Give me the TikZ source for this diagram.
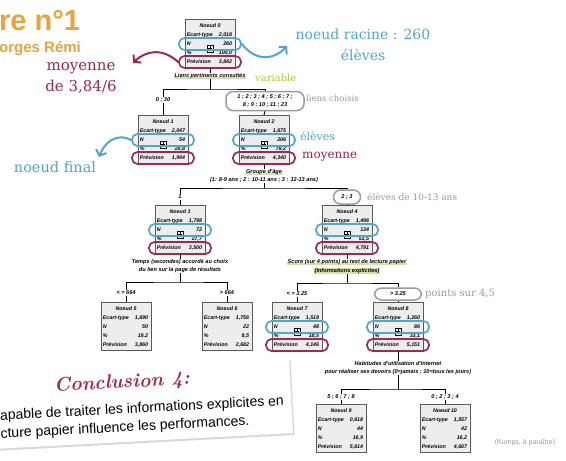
\documentclass[tikz,border=0pt]{standalone}
\usepackage{fontspec}
\newfontfamily\slabfont{DejaVu Serif}
\newfontfamily\cardfont{Liberation Sans}
\usetikzlibrary{arrows.meta,shadows,positioning}
\definecolor{ovblue}{HTML}{4FA8CB}
\definecolor{ovred}{HTML}{A1294F}
\definecolor{ovgray}{HTML}{9B9B9B}
\definecolor{titleor}{HTML}{E7A43C}
\definecolor{hlgreen}{HTML}{D3E2A4}
\definecolor{vargreen}{HTML}{B7C541}
\definecolor{boxgray}{HTML}{EDEDED}
\tikzset{
  treebox/.style={draw=black!65, fill=boxgray, line width=0.6pt,
    minimum width=50pt, minimum height=48pt, inner sep=0pt},
  tt/.style={font=\cardfont\fontsize{5.3}{6}\selectfont\bfseries\itshape, inner sep=0pt},
  splitlbl/.style={font=\cardfont\fontsize{5.6}{7.4}\selectfont\bfseries\itshape,
    inner sep=0.6pt, align=center},
  hlunder/.style={fill=white, path picture={\fill[hlgreen]
    ([yshift=2pt]path picture bounding box.south west) rectangle
    (path picture bounding box.south east);}},
  treeline/.style={line width=0.9pt},
  blueoval/.style={draw=ovblue, line width=1.7pt, rounded corners=5.5pt,
    minimum width=62pt, minimum height=12pt, inner sep=0pt},
  redoval/.style={blueoval, draw=ovred},
  grayoval/.style={draw=ovgray, line width=1.5pt, rounded corners=7pt},
  plusbox/.style={draw, fill=white, line width=0.5pt, minimum size=6.5pt, inner sep=0pt,
    path picture={\draw[line width=0.45pt]
      ([yshift=-1.2pt]path picture bounding box.north) -- ([yshift=1.2pt]path picture bounding box.south)
      ([xshift=1.2pt]path picture bounding box.west) -- ([xshift=-1.2pt]path picture bounding box.east);}},
  note/.style={inner sep=0pt},
  annarrow/.style={line width=2pt, -{Straight Barb[length=5pt,width=11pt]}},
}
\begin{document}
\begin{tikzpicture}[x=1pt,y=-1pt]
\useasboundingbox (0,0) rectangle (566,461);
\fill[white] (0,0) rectangle (566,461);

% carte de conclusion
\fill[white, drop shadow={opacity=0.3, shadow xshift=1.5pt, shadow yshift=-2pt}]
  (-30,375) -- (289,358) -- (293,433) -- (-26,450) -- cycle;
\node[note, rotate=3, text=ovred, font=\fontsize{19.5}{22}\selectfont\bfseries\itshape] (c0) at (122,383) {Conclusion 4:};
\node[note, rotate=3, font=\cardfont\fontsize{14}{16}\selectfont] (c1) at (142,409) {apable de traiter les informations explicites en};
\node[note, rotate=3, font=\cardfont\fontsize{14}{16}\selectfont] (c2) at (125,428) {cture papier influence les performances.};

% titre
\node[note, anchor=west, text=titleor, font=\cardfont\bfseries\fontsize{29}{30}\selectfont] (ttl) at (-1,21) {re n°1};
\node[note, anchor=west, text=titleor, font=\cardfont\bfseries\fontsize{15}{16}\selectfont] (auth) at (-1,49) {orges Rémi};

% noeuds de l'arbre
\foreach \k/\cx/\ty/\et/\nn/\pc/\pv in {
  0/210/19/{2,018}/260/{100,0}/{3,842},
  1/163/115/{2,047}/54/{20,8}/{1,944},
  2/264/115/{1,675}/206/{79,2}/{4,340},
  3/180/205/{1,798}/72/{27,7}/{3,500},
  4/347/205/{1,496}/134/{51,5}/{4,791},
  5/126/302/{1,690}/50/{19,2}/{3,860},
  6/227/302/{1,756}/22/{8,5}/{2,682},
  7/297/302/{1,519}/48/{18,5}/{4,146},
  8/398/302/{1,260}/86/{33,1}/{5,151},
  9/341/404/{0,618}/44/{16,9}/{5,614},
  10/445/404/{1,557}/42/{16,2}/{4,667}}
{
  \node[treebox, anchor=north] (n\k) at (\cx,\ty) {};
  \node[tt] (h\k) at ([yshift=-7pt]n\k.north) {Noeud \k};
  \node[tt, anchor=west] (el\k) at ([xshift=2pt,yshift=-16pt]n\k.north west) {Ecart-type};
  \node[tt, anchor=east] (ev\k) at ([xshift=-3pt,yshift=-16pt]n\k.north east) {\et};
  \node[tt, anchor=west] (nl\k) at ([xshift=2pt,yshift=-25pt]n\k.north west) {N};
  \node[tt, anchor=east] (nv\k) at ([xshift=-3pt,yshift=-25pt]n\k.north east) {\nn};
  \node[tt, anchor=west] (pl\k) at ([xshift=2pt,yshift=-34pt]n\k.north west) {\%};
  \node[tt, anchor=east] (pv\k) at ([xshift=-3pt,yshift=-34pt]n\k.north east) {\pc};
  \node[tt, anchor=west] (rl\k) at ([xshift=2pt,yshift=-43pt]n\k.north west) {Prévision};
  \node[tt, anchor=east] (rv\k) at ([xshift=-3pt,yshift=-43pt]n\k.north east) {\pv};
}
\foreach \k in {0,1,2,3,4,7,8} {
  \node[plusbox] (pb\k) at ([yshift=-29.5pt]n\k.north) {};
  \node[blueoval] (bo\k) at ([yshift=-25pt]n\k.north) {};
  \node[redoval] (ro\k) at ([yshift=-43pt]n\k.north) {};
}

% division 0
\node[splitlbl, hlunder] (v0) at (210,76) {Liens pertinents consultés};
\node[splitlbl] (b1) at (163,100) {0 ; 30};
\node[splitlbl, grayoval, minimum width=78pt, minimum height=19pt] (b2) at (265,101)
  {1 ; 2 ; 3 ; 4 ; 5 ; 6 ; 7 ;\\8 ; 9 ; 10 ; 11 ; 23};
\coordinate (s0) at (210,89);
\draw[treeline] (n0.south) -- (v0.north);
\draw[treeline] (v0.south) -- (s0);
\draw[treeline] (b1.north) |- (s0) -| (b2.north);
\draw[treeline] (b1.south) -- (n1.north);
\draw[treeline] (b2.south) -- (n2.north);

% division 2
\node[splitlbl, hlunder] (v2) at (264,172) {Groupe d'âge};
\node[splitlbl] (v2b) at (264,180) {(1: 8-9 ans ; 2 : 10-11 ans ; 3 : 12-13 ans)};
\node[splitlbl] (b3) at (180,197) {1};
\node[splitlbl, grayoval, minimum width=27pt, minimum height=14pt] (b4) at (347,197) {2 ; 3};
\coordinate (s2) at (264,188);
\draw[treeline] (n2.south) -- (v2.north);
\draw[treeline] (v2b.south) -- (s2);
\draw[treeline] (b3.north) |- (s2) -| (b4.north);
\draw[treeline] (b3.south) -- (n3.north);
\draw[treeline] (b4.south) -- (n4.north);

% division 3
\node[splitlbl] (v3) at (180,266) {Temps (secondes) accordé au choix\\du lien sur la page de résultats};
\node[splitlbl] (b5) at (126,293) {< = 664};
\node[splitlbl] (b6) at (227,293) {> 664};
\coordinate (s3) at (180,282);
\draw[treeline] (n3.south) -- (v3.north);
\draw[treeline] (v3.south) -- (s3);
\draw[treeline] (b5.north) |- (s3) -| (b6.north);
\draw[treeline] (b5.south) -- (n5.north);
\draw[treeline] (b6.south) -- (n6.north);

% division 4
\node[splitlbl, hlunder] (v4) at (347,262) {Score (sur 4 points) au test de lecture papier};
\node[splitlbl, fill=hlgreen] (v4b) at (347,271) {(Informations explicites)};
\node[splitlbl] (b7) at (297,294) {< = 3.25};
\node[splitlbl, grayoval, minimum width=47pt, minimum height=12pt] (b8) at (398,294) {> 3.25};
\coordinate (s4) at (347,283);
\draw[treeline] (n4.south) -- (v4.north);
\draw[treeline] (v4b.south) -- (s4);
\draw[treeline] (b7.north) |- (s4) -| (b8.north);
\draw[treeline] (b7.south) -- (n7.north);
\draw[treeline] (b8.south) -- (n8.north);

% division 8
\node[splitlbl] (v8) at (398,368) {Habitudes d'utilisation d'Internet\\pour réaliser ses devoirs (0=jamais ; 10=tous les jours)};
\node[splitlbl] (b9) at (341,397) {5 ; 6 ; 7 ; 8};
\node[splitlbl] (b10) at (445,397) {0 ; 2 ; 3 ; 4};
\coordinate (s8) at (398,389);
\draw[treeline] (n8.south) -- (v8.north);
\draw[treeline] (v8.south) -- (s8);
\draw[treeline] (b9.north) |- (s8) -| (b10.north);
\draw[treeline] (b9.south) -- (n9.north);
\draw[treeline] (b10.south) -- (n10.north);

% annotations
\node[note, align=center, text=ovblue, font=\slabfont\fontsize{14}{21}\selectfont] (racine) at (363,45) {noeud racine : 260\\élèves};
\node[note, align=center, text=ovred, font=\slabfont\fontsize{15}{21}\selectfont] (moy0) at (81,78) {moyenne\\de 3,84/6};
\node[note, text=ovblue, font=\slabfont\fontsize{14.5}{16}\selectfont] (final) at (55,167) {noeud final};
\node[note, anchor=west, text=vargreen, font=\slabfont\fontsize{10}{11}\selectfont] (varn) at (255,78) {variable};
\node[note, anchor=west, text=ovgray, font=\slabfont\fontsize{8.5}{10}\selectfont] (lienn) at (306,98) {liens choisis};
\node[note, anchor=west, text=ovblue, font=\slabfont\fontsize{11}{12}\selectfont] (elevn) at (300,136) {élèves};
\node[note, anchor=west, text=ovred, font=\slabfont\fontsize{12}{13}\selectfont] (moyn) at (302,157) {moyenne};
\node[note, anchor=west, text=ovgray, font=\slabfont\fontsize{9}{10}\selectfont] (agen) at (367,197) {élèves de 10-13 ans};
\node[note, anchor=west, text=ovgray, font=\slabfont\fontsize{10}{11}\selectfont] (ptsn) at (425,294) {points sur 4,5};
\node[note, text=ovgray, font=\cardfont\fontsize{7}{8}\selectfont] (src) at (525,443) {(Kumps, à paraître)};

\coordinate (ar) at (287,46);
\coordinate (al) at (133,63);
\coordinate (af) at (99,157);
\draw[annarrow, ovblue] (bo0.east) .. controls (256,62) and (274,60) .. (ar);
\draw[annarrow, ovred] (ro0.west) .. controls (163,48) and (146,50) .. (al);
\draw[annarrow, ovblue] (bo1.west) .. controls (115,132) and (104,144) .. (af);
\end{tikzpicture}
\end{document}
